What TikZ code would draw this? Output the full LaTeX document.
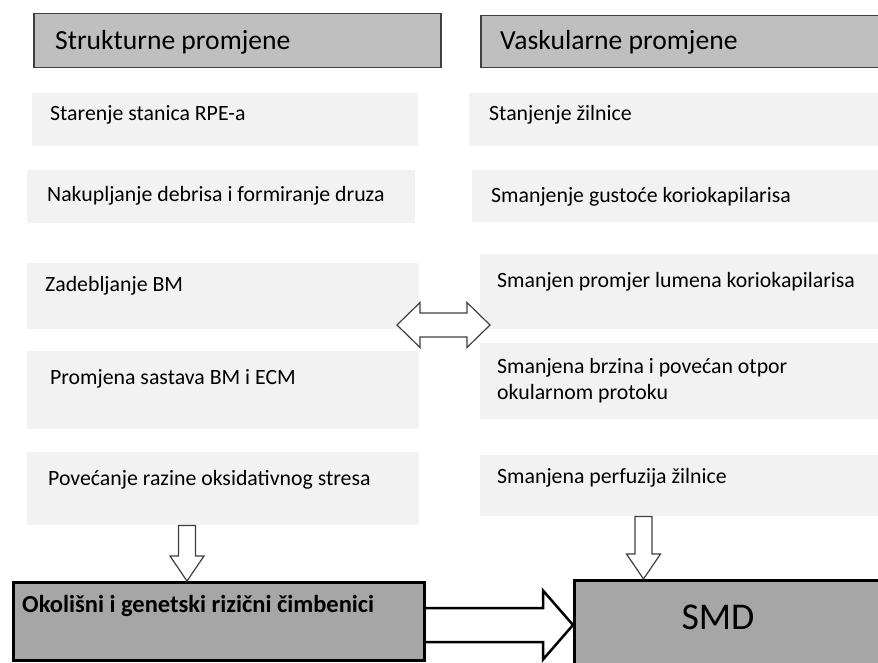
\documentclass[tikz,border=0pt]{standalone}
\usepackage{fontspec}
\setmainfont{Carlito}
\usepackage{tikz}
\usetikzlibrary{calc}
\definecolor{hdrgray}{HTML}{BFBFBF}
\definecolor{boxgray}{HTML}{F2F2F2}
\definecolor{botgray}{HTML}{A6A6A6}
\tikzset{>=latex}
\tikzset{
	hdr/.style={draw=black!75, line width=1.5pt, fill=hdrgray, anchor=north west, inner sep=0pt},
	lbox/.style={fill=boxgray, anchor=north west, inner sep=0pt},
	botbox/.style={draw=black, line width=3pt, fill=botgray, anchor=north west, inner sep=0pt},
	txt/.style={anchor=base west, inner sep=0pt, font=\fontsize{21.8}{26}\selectfont},
	htxt/.style={anchor=base west, inner sep=0pt, font=\fontsize{27.6}{33}\selectfont},
	blockarrow/.style={draw=black!75, line width=1.2pt, fill=white, line join=miter},
}
\newcommand{\dnarrow}[2]{%
	\draw[blockarrow] ($(#1)+(-8.5,0)$) -- ($(#2)+(-8.5,-25)$) -- ($(#2)+(-17,-25)$) -- (#2)
		-- ($(#2)+(17,-25)$) -- ($(#2)+(8.5,-25)$) -- ($(#1)+(8.5,0)$) -- cycle;
}

\begin{document}
\begin{tikzpicture}[x=1pt, y=-1pt]
	\clip (0,0) rectangle (878,663);
	
	% Headers
	\node[hdr, minimum width=407pt, minimum height=54pt] (hl) at (33,13) {};
	\node[hdr, minimum width=420pt, minimum height=52pt] (hr) at (480,15) {};
	\node[htxt] (hlt) at (55,50) {Strukturne promjene};
	\node[htxt] (hrt) at (500,50) {Vaskularne promjene};
	
	% Left column
	\node[lbox, minimum width=386pt, minimum height=53pt] (l1) at (32,93) {};
	\node[lbox, minimum width=388pt, minimum height=53pt] (l2) at (27,170) {};
	\node[lbox, minimum width=392pt, minimum height=66pt] (l3) at (27,263) {};
	\node[lbox, minimum width=392pt, minimum height=78pt] (l4) at (27,351) {};
	\node[lbox, minimum width=392pt, minimum height=73pt] (l5) at (27,452) {};
	\node[txt] (l1t) at (50,121) {Starenje stanica RPE-a};
	\node[txt] (l2t) at (47,202) {Nakupljanje debrisa i formiranje druza};
	\node[txt] (l3t) at (45,291) {Zadebljanje BM};
	\node[txt] (l4t) at (50,384) {Promjena sastava BM i ECM};
	\node[txt] (l5t) at (48,485) {Povećanje razine oksidativnog stresa};
	
	% Right column
	\node[lbox, minimum width=420pt, minimum height=53pt] (r1) at (469,93) {};
	\node[lbox, minimum width=420pt, minimum height=52pt] (r2) at (472,170) {};
	\node[lbox, minimum width=420pt, minimum height=75pt] (r3) at (480,254) {};
	\node[lbox, minimum width=420pt, minimum height=76pt] (r4) at (480,343) {};
	\node[lbox, minimum width=420pt, minimum height=61pt] (r5) at (480,455) {};
	\node[txt] (r1t) at (489,121) {Stanjenje žilnice};
	\node[txt] (r2t) at (491,203) {Smanjenje gustoće koriokapilarisa};
	\node[txt] (r3t) at (497,287) {Smanjen promjer lumena koriokapilarisa};
	\node[txt, align=left] (r4t) at (497,399) {Smanjena brzina i povećan otpor\\okularnom protoku};
	\node[txt] (r5t) at (497,483) {Smanjena perfuzija žilnice};
	
	% Bottom boxes
	\node[botbox, minimum width=411pt, minimum height=78pt] (okol) at (12,581) {};
	\node[botbox, minimum width=330pt, minimum height=100pt] (smd) at (573,579) {};
	\node[anchor=base west, inner sep=0pt, font=\fontsize{24.5}{29}\selectfont\bfseries] (okolt) at (22,612) {Okolišni i genetski rizični čimbenici};
	\node[anchor=base, inner sep=0pt, font=\fontsize{37.8}{45}\selectfont] (smdt) at (718,629) {SMD};
	
	% Arrows
	\coordinate (dal) at (397,325);
	\coordinate (dar) at (490,325);
	\draw[blockarrow] (dal) -- ($(dal)+(23,-22.5)$) -- ($(dal)+(23,-12)$) -- ($(dar)+(-23,-12)$) -- ($(dar)+(-23,-22.5)$)
		-- (dar) -- ($(dar)+(-23,22.5)$) -- ($(dar)+(-23,12)$) -- ($(dal)+(23,12)$) -- ($(dal)+(23,22.5)$) -- cycle;
	
	\coordinate (dl) at (187,0);
	\coordinate (dr) at (643.5,0);
	\dnarrow{dl |- l5.south}{dl |- okol.north}
	\dnarrow{dr |- r5.south}{dr |- smd.north}
	
	\coordinate (ha) at (0,625);
	\draw[blockarrow, draw=black, line width=2.5pt] (okol.east |- ha) ++(0,-17) -- ($(smd.west |- ha)+(-30,-17)$) -- ($(smd.west |- ha)+(-30,-34.5)$)
		-- (smd.west |- ha) -- ($(smd.west |- ha)+(-30,34.5)$) -- ($(smd.west |- ha)+(-30,17)$) -- ($(okol.east |- ha)+(0,17)$);
\end{tikzpicture}
\end{document}
